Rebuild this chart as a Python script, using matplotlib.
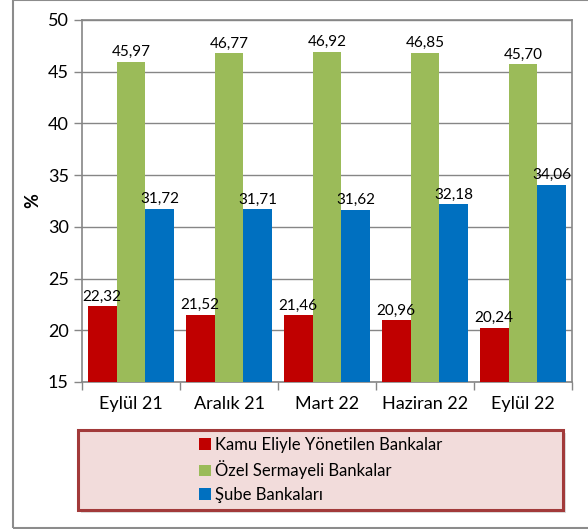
import numpy as np
import matplotlib.pyplot as plt
from matplotlib.patches import Rectangle

plt.rcParams['font.family'] = ['Lato', 'DejaVu Sans']

periods = ["Eylül 21", "Aralık 21", "Mart 22", "Haziran 22", "Eylül 22"]
kamu = [22.32, 21.52, 21.46, 20.96, 20.24]
ozel = [45.97, 46.77, 46.92, 46.85, 45.70]
sube = [31.72, 31.71, 31.62, 32.18, 34.06]
series_names = ["Kamu Eliyle Yönetilen Bankalar", "Özel Sermayeli Bankalar", "Şube Bankaları"]
colors = ["#C00000", "#9BBB59", "#0070C0"]

fig = plt.figure(figsize=(5.88, 5.29), dpi=100)
ax = fig.add_axes([82/588, 1 - 382/529, 490/588, 362/529])

x = np.arange(len(periods))
w = 0.295
bars = []
for i, (vals, c, name) in enumerate(zip([kamu, ozel, sube], colors, series_names)):
    b = ax.bar(x + (i - 1) * w, vals, w, color=c, label=name, zorder=3)
    ax.bar_label(b, labels=[f"{v:.2f}".replace(".", ",") for v in vals],
                 padding=2, fontsize=11, zorder=4)
    bars.append(b)

ax.set_ylim(15, 50)
ax.set_xlim(-0.5, len(periods) - 0.5)
ax.set_yticks(range(15, 51, 5))
ax.yaxis.grid(True, color="#868686", linewidth=1, zorder=0)
ax.set_xticks(x)
ax.set_xticklabels(periods, fontsize=13)
ax.tick_params(axis="x", length=0, pad=10)
ax.set_xticks(np.arange(-0.5, len(periods), 1), minor=True)
ax.tick_params(axis="x", which="minor", length=6, color="#868686", width=1)
ax.tick_params(axis="y", labelsize=13, length=6, color="#868686", width=1)
for s in ax.spines.values():
    s.set_color("#868686")
    s.set_linewidth(1.2)
ax.set_ylabel("%", fontsize=13, fontweight="bold", labelpad=5)

# outer chart border
fig.patches.append(Rectangle((13/588, 1/529), 1.0, 1 - 1/529, transform=fig.transFigure,
                             fill=False, edgecolor="#8C8C8C", linewidth=1.5))

# legend box with shadow
lx0, ly0, lx1, ly1 = 78/588, 1 - 510/529, 563/588, 1 - 430/529
fig.patches.append(Rectangle((lx0 + 3/588, ly0 - 3/529), lx1 - lx0, ly1 - ly0,
                             transform=fig.transFigure, facecolor="#C8C8C8",
                             edgecolor="none", alpha=0.6))
fig.patches.append(Rectangle((lx0, ly0), lx1 - lx0, ly1 - ly0, transform=fig.transFigure,
                             facecolor="#F2DCDB", edgecolor="#A23A3A", linewidth=2.2))
fig.legend(handles=bars, labels=series_names, loc="center",
           bbox_to_anchor=((lx0 + lx1) / 2, (ly0 + ly1) / 2), frameon=False,
           fontsize=12, handlelength=0.7, handleheight=0.7, handletextpad=0.25,
           labelspacing=0.45)

fig.savefig("out.png", dpi=100)
